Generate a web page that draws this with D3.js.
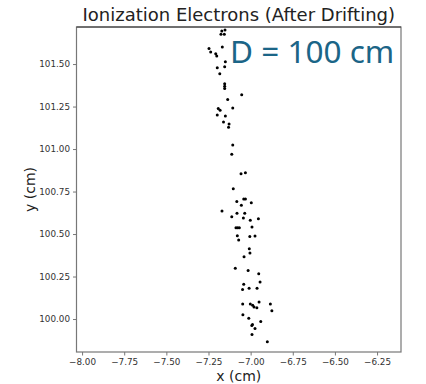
<!DOCTYPE html>
<html>
<head>
<meta charset="utf-8">
<script src="https://cdn.jsdelivr.net/npm/d3@7"></script>
<style>
  html, body { margin: 0; padding: 0; background: #fff; }
  svg { display: block; }
</style>
</head>
<body>
<script>
// Electron positions after drifting (cm)
const xs = [
  -7.171, -7.152, -7.176, -7.156, -7.247, -7.237, -7.168, -7.207, -7.201, -7.150,
  -7.198, -7.154, -7.183, -7.154, -7.154, -7.154, -7.053, -7.136, -7.106, -7.192,
  -7.181, -7.198, -7.150, -7.161, -7.128, -7.131, -7.106, -7.112, -7.057, -7.031,
  -7.103, -7.041, -7.031, -7.082, -6.996, -7.055, -7.170, -7.081, -7.035, -7.112,
  -7.043, -7.002, -6.954, -7.087, -7.077, -7.067, -6.992, -7.079, -7.071, -7.005,
  -6.974, -7.008, -7.004, -7.039, -7.091, -7.015, -6.952, -6.944, -7.041, -7.048,
  -7.009, -6.962, -7.047, -7.002, -6.988, -6.980, -6.963, -6.950, -6.883, -6.874,
  -7.046, -7.011, -6.940, -6.989, -6.993, -6.974, -6.992, -6.901
];
const ys = [
  101.694, 101.700, 101.675, 101.675, 101.592, 101.571, 101.600, 101.561, 101.547, 101.514,
  101.478, 101.484, 101.443, 101.384, 101.369, 101.356, 101.319, 101.292, 101.241, 101.239,
  101.228, 101.200, 101.194, 101.159, 101.147, 101.128, 101.024, 100.969, 100.855, 100.861,
  100.766, 100.706, 100.706, 100.692, 100.684, 100.669, 100.635, 100.622, 100.622, 100.602,
  100.594, 100.581, 100.590, 100.537, 100.537, 100.537, 100.541, 100.490, 100.465, 100.486,
  100.488, 100.414, 100.388, 100.366, 100.298, 100.286, 100.266, 100.218, 100.204, 100.174,
  100.181, 100.181, 100.088, 100.088, 100.081, 100.071, 100.066, 100.100, 100.088, 100.049,
  100.025, 100.005, 99.985, 99.968, 99.962, 99.944, 99.909, 99.866
];

const xTicks = [-8.00, -7.75, -7.50, -7.25, -7.00, -6.75, -6.50, -6.25];
const yTicks = [100.00, 100.25, 100.50, 100.75, 101.00, 101.25, 101.50];
const xDomain = [-8.033, -6.108];
const yDomain = [99.806, 101.718];

const title = "Ionization Electrons (After Drifting)";
const annotation = "D = 100 cm";
const xLabel = "x (cm)";
const yLabel = "y (cm)";

const W = 426, H = 384;
const plot = { left: 76.5, right: 401, top: 27, bottom: 352 };

const svg = d3.select("body").append("svg")
  .attr("width", W).attr("height", H)
  .style("font-family", "'DejaVu Sans', sans-serif");

const x = d3.scaleLinear().domain(xDomain).range([plot.left, plot.right]);
const y = d3.scaleLinear().domain(yDomain).range([plot.bottom, plot.top]);

const fmt = d => d3.format(".2f")(d).replace("-", "\u2212");

// axes
const xAxis = svg.append("g")
  .attr("transform", `translate(0,${plot.bottom})`)
  .call(d3.axisBottom(x).tickValues(xTicks).tickFormat(fmt).tickSize(3.5).tickPadding(3));
const yAxis = svg.append("g")
  .attr("transform", `translate(${plot.left},0)`)
  .call(d3.axisLeft(y).tickValues(yTicks).tickFormat(fmt).tickSize(3.5).tickPadding(3));

[xAxis, yAxis].forEach(g => {
  g.select(".domain").remove();
  g.selectAll(".tick line").attr("stroke", "#777");
  g.selectAll(".tick text")
    .attr("fill", "#333")
    .style("font-family", "'DejaVu Sans', sans-serif")
    .style("font-size", "8.8px");
});

// frame
svg.append("rect")
  .attr("x", plot.left).attr("y", plot.top)
  .attr("width", plot.right - plot.left).attr("height", plot.bottom - plot.top)
  .attr("fill", "none").attr("stroke", "#777").attr("stroke-width", 1.2);
svg.append("line")
  .attr("x1", plot.left).attr("x2", plot.right)
  .attr("y1", plot.top).attr("y2", plot.top)
  .attr("stroke", "#333").attr("stroke-width", 1);

// electrons
const pts = xs.map((v, i) => ({ x: v, y: ys[i] }));
svg.append("g").selectAll("circle").data(pts).join("circle")
  .attr("cx", d => x(d.x)).attr("cy", d => y(d.y))
  .attr("r", 1.5).attr("fill", "#000");

// title
svg.append("text")
  .attr("x", (plot.left + plot.right) / 2).attr("y", 21)
  .attr("text-anchor", "middle")
  .attr("fill", "#222")
  .style("font-size", "18px")
  .text(title);

// drift distance annotation
svg.append("text")
  .attr("x", 230).attr("y", 63)
  .attr("fill", "#1b6587")
  .style("font-family", "'Noto Sans', 'Open Sans', sans-serif")
  .style("font-size", "31.5px")
  .text(annotation);

// axis labels
svg.append("text")
  .attr("x", (plot.left + plot.right) / 2).attr("y", 381)
  .attr("text-anchor", "middle").attr("fill", "#222")
  .style("font-size", "14px")
  .text(xLabel);
svg.append("text")
  .attr("transform", `translate(35,${(plot.top + plot.bottom) / 2}) rotate(-90)`)
  .attr("text-anchor", "middle").attr("fill", "#222")
  .style("font-size", "14px")
  .text(yLabel);
</script>
</body>
</html>
